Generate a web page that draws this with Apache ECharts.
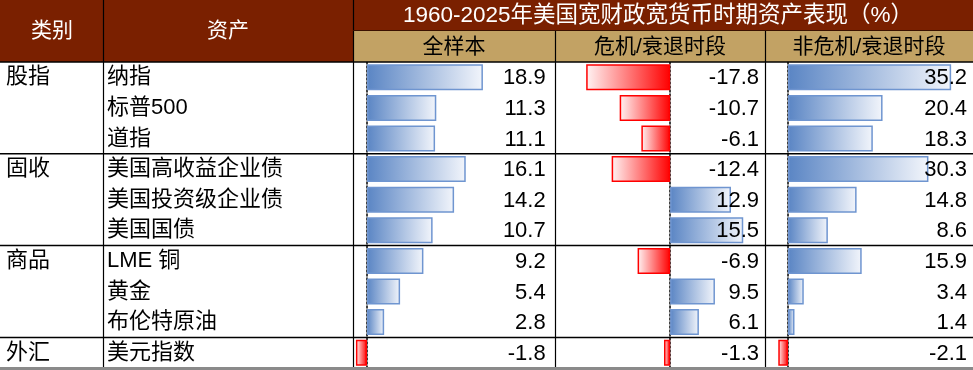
<!DOCTYPE html>
<html>
<head>
<meta charset="utf-8">
<script src="https://cdn.jsdelivr.net/npm/echarts@6/dist/echarts.min.js"></script>
<style>
html,body{margin:0;padding:0;background:#fff;}
#chart{width:973px;height:370px;}
</style>
</head>
<body>
<div id="chart"></div>
<script>
// ---------- data ----------
const groups = ['股指','股指','股指','固收','固收','固收','商品','商品','商品','外汇'];
const assets = ['纳指','标普500','道指','美国高收益企业债','美国投资级企业债','美国国债','LME 铜','黄金','布伦特原油','美元指数'];
const fullSample = [18.9, 11.3, 11.1, 16.1, 14.2, 10.7, 9.2, 5.4, 2.8, -1.8];
const crisis = [-17.8, -10.7, -6.1, -12.4, 12.9, 15.5, -6.9, 9.5, 6.1, -1.3];
const nonCrisis = [35.2, 20.4, 18.3, 30.3, 14.8, 8.6, 15.9, 3.4, 1.4, -2.1];
const title = '1960-2025年美国宽财政宽货币时期资产表现（%）';
const colHeaders = ['全样本', '危机/衰退时段', '非危机/衰退时段'];
const leftHeaders = ['类别', '资产'];

// ---------- styling ----------
const FONT = "'Liberation Sans', 'Noto Sans CJK SC', sans-serif";
const DARK = '#7A2000';
const TAN = '#C2A264';
const TOP = 62, H = 306;

const cols = [
  { values: fullSample, left: 354.7, width: 200, min: -2, max: 30.6, pad: 9 },
  { values: crisis, left: 556, width: 208, min: -24.2, max: 19.9, pad: 5 },
  { values: nonCrisis, left: 766, width: 206, min: -4.75, max: 39.7, pad: 5 }
];

function barStyle(v) {
  if (v >= 0) {
    return {
      color: new echarts.graphic.LinearGradient(0, 0, 1, 0, [
        { offset: 0, color: '#5A85C4' }, { offset: 1, color: '#F2F5FB' }
      ]),
      borderColor: '#6F95D0', borderWidth: 1.5
    };
  }
  return {
    color: new echarts.graphic.LinearGradient(0, 0, 1, 0, [
      { offset: 0, color: '#FFF4F4' }, { offset: 1, color: '#FF0000' }
    ]),
    borderColor: '#FF0000', borderWidth: 1.5
  };
}

const grid = [], xAxis = [], yAxis = [], series = [];
cols.forEach((c, gi) => {
  grid.push({ left: c.left, top: TOP, width: c.width, height: H, containLabel: false });
  xAxis.push({ type: 'value', gridIndex: gi, min: c.min, max: c.max, show: false });
  yAxis.push({
    type: 'category', gridIndex: gi, data: assets, inverse: true,
    axisLine: { show: true, onZero: true, lineStyle: { color: '#000', width: 1.5, type: [2, 2] } },
    axisTick: { show: false }, axisLabel: { show: false }, splitLine: { show: false }
  });
  series.push({
    type: 'bar', xAxisIndex: gi, yAxisIndex: gi, barWidth: 26,
    data: c.values.map(v => ({ value: v, itemStyle: barStyle(v) })),
    silent: true, z: 3
  });
  series.push({
    type: 'custom', xAxisIndex: gi, yAxisIndex: gi, z: 5,
    data: c.values.map((v, i) => [v, i]),
    renderItem: (params, api) => {
      const p = api.coord([c.max, api.value(1)]);
      return {
        type: 'text', x: p[0] - c.pad, y: p[1] + 1,
        style: { text: api.value(0).toFixed(1), align: 'right', verticalAlign: 'middle',
                 font: '22px ' + FONT, fill: '#000' }
      };
    }
  });
});
// asset names axis (grid 0)
yAxis.push({
  type: 'category', gridIndex: 0, data: assets, inverse: true, position: 'left',
  axisLine: { show: false }, axisTick: { show: false }, splitLine: { show: false },
  axisLabel: { show: true, interval: 0, align: 'left', margin: 354.7 - 107, fontSize: 22,
               fontFamily: FONT, color: '#000' }
});
// group names axis (grid 0)
yAxis.push({
  type: 'category', gridIndex: 0, data: groups, inverse: true, position: 'left',
  axisLine: { show: false }, axisTick: { show: false }, splitLine: { show: false },
  axisLabel: { show: true, interval: 0, align: 'left', margin: 354.7 - 6, fontSize: 22,
               fontFamily: FONT, color: '#000',
               formatter: (v, i) => (i === 0 || groups[i - 1] !== v) ? v : '' }
});

// table structure
const rowH = H / assets.length;
const groupBreaks = [];
groups.forEach((g, i) => { if (i > 0 && groups[i - 1] !== g) groupBreaks.push(TOP + i * rowH); });

const gfx = [
  { type: 'rect', shape: { x: 0, y: 0, width: 973, height: TOP }, style: { fill: DARK }, z: 0 },
  { type: 'rect', shape: { x: 353, y: 30, width: 620, height: TOP - 30 }, style: { fill: TAN }, z: 1 },
  { type: 'text', x: 52, y: 31, style: { text: leftHeaders[0], fill: '#fff', font: '21px ' + FONT, align: 'center', verticalAlign: 'middle' }, z: 2 },
  { type: 'text', x: 228, y: 31, style: { text: leftHeaders[1], fill: '#fff', font: '21px ' + FONT, align: 'center', verticalAlign: 'middle' }, z: 2 },
  { type: 'text', x: 658, y: 16, style: { text: title, fill: '#fff', font: '22.5px ' + FONT, align: 'center', verticalAlign: 'middle' }, z: 2 },
  { type: 'text', x: 454, y: 47, style: { text: colHeaders[0], fill: '#000', font: '21px ' + FONT, align: 'center', verticalAlign: 'middle' }, z: 2 },
  { type: 'text', x: 660, y: 47, style: { text: colHeaders[1], fill: '#000', font: '21px ' + FONT, align: 'center', verticalAlign: 'middle' }, z: 2 },
  { type: 'text', x: 869, y: 47, style: { text: colHeaders[2], fill: '#000', font: '21px ' + FONT, align: 'center', verticalAlign: 'middle' }, z: 2 }
];
const line = (x1, y1, x2, y2, color, w) => ({
  type: 'line', shape: { x1, y1, x2, y2 }, style: { stroke: color || '#000', lineWidth: w || 1.2 }, z: 10
});
gfx.push(line(103.5, 0, 103.5, 368));
gfx.push(line(353.5, 0, 353.5, 368));
gfx.push(line(555.5, 30, 555.5, 368));
gfx.push(line(765.5, 30, 765.5, 368));
gfx.push(line(353, 30.5, 973, 30.5, '#3a1000', 1));
gfx.push(line(0, TOP, 973, TOP, '#000', 1.5));
groupBreaks.forEach(y => gfx.push(line(0, y, 973, y, '#000', 1.5)));
gfx.push(line(0, 368.5, 973, 368.5, '#8a8a8a', 3));

const chart = echarts.init(document.getElementById('chart'), null, { renderer: 'canvas' });
chart.setOption({
  animation: false,
  backgroundColor: '#fff',
  grid, xAxis, yAxis, series,
  graphic: gfx
});
</script>
</body>
</html>
